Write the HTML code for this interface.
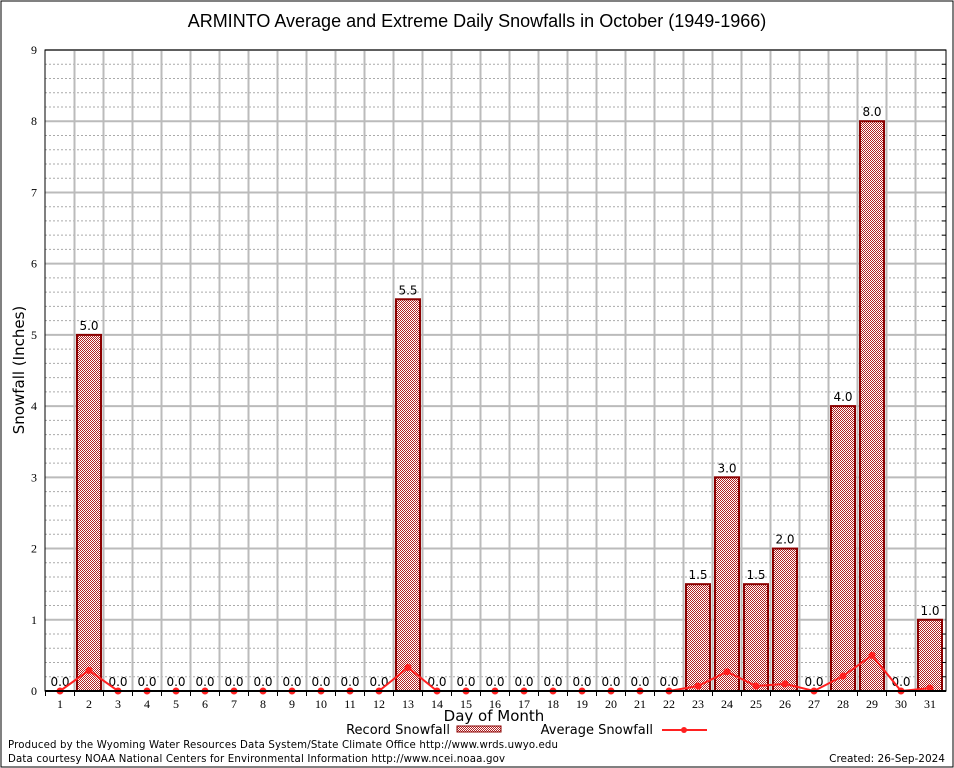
<!DOCTYPE html>
<html><head><meta charset="utf-8"><style>
body{margin:0;background:#fff;}
svg{display:block;font-family:"DejaVu Sans","Liberation Sans",sans-serif;}
</style></head><body>
<svg id="chart" width="954" height="768" viewBox="0 0 954 768">
<defs>
<pattern id="hatch" width="2" height="2" patternUnits="userSpaceOnUse">
<rect width="2" height="2" fill="#fff"/>
<rect width="1" height="1" fill="#b22222"/>
<rect x="1" y="1" width="1" height="1" fill="#b22222"/>
</pattern>
</defs>
<rect x="1" y="1" width="952" height="766" fill="#fff" stroke="#000" stroke-width="1"/>
<text x="477" y="27" font-size="18" text-anchor="middle" font-family="Liberation Sans, sans-serif">ARMINTO Average and Extreme Daily Snowfalls in October (1949-1966)</text>
<g id="grid"></g>
<g id="bars"></g>
<g id="avg"></g>
<g id="axes"></g>
<text x="24" y="370" font-size="15" text-anchor="middle" transform="rotate(-90 24 370)">Snowfall (Inches)</text>
<text x="494" y="721" font-size="15" text-anchor="middle">Day of Month</text>
<g>
<text x="450" y="734" font-size="13" text-anchor="end">Record Snowfall</text>
<rect x="457" y="726" width="44" height="6" fill="url(#hatch)" stroke="#8b0000" stroke-width="1"/>
<text x="653" y="734" font-size="13" text-anchor="end">Average Snowfall</text>
<line x1="662" y1="730" x2="707" y2="730" stroke="#ff2020" stroke-width="2"/>
<circle cx="684" cy="730" r="3" fill="#ff2020"/>
</g>
<text x="8" y="748" font-size="10.2" textLength="550">Produced by the Wyoming Water Resources Data System/State Climate Office http://www.wrds.uwyo.edu</text>
<text x="8" y="762" font-size="10.2" textLength="497">Data courtesy NOAA National Centers for Environmental Information http://www.ncei.noaa.gov</text>
<text x="945" y="762" font-size="10.5" text-anchor="end">Created: 26-Sep-2024</text>
</svg>
<script>
const days=[1,2,3,4,5,6,7,8,9,10,11,12,13,14,15,16,17,18,19,20,21,22,23,24,25,26,27,28,29,30,31];
const recordSnow=[0,5,0,0,0,0,0,0,0,0,0,0,5.5,0,0,0,0,0,0,0,0,0,1.5,3,1.5,2,0,4,8,0,1];
const avgSnow=[0,0.29,0,0,0,0,0,0,0,0,0,0,0.33,0,0,0,0,0,0,0,0,0,0.07,0.27,0.07,0.1,0,0.21,0.5,0,0.04];
const yTicks=[0,1,2,3,4,5,6,7,8,9];
const NS="http://www.w3.org/2000/svg";
const L=45,R=946,T=50,B=691,YMAX=9;
function xs(d){return 60+(d-1)*29;}
function ys(v){return B-(v/YMAX)*(B-T);}
function mk(tag,attrs,parent){const e=document.createElementNS(NS,tag);for(const k in attrs)e.setAttribute(k,attrs[k]);parent.appendChild(e);return e;}
const grid=document.getElementById('grid'),bars=document.getElementById('bars'),avg=document.getElementById('avg'),axes=document.getElementById('axes');
for(let v=0.2;v<YMAX;v+=0.2){if(Math.abs(v-Math.round(v))<0.01)continue;
 const l=mk('line',{x1:L,x2:R,y1:ys(v),y2:ys(v),stroke:'#aaa','stroke-width':1,'stroke-dasharray':'2,2'},grid);
 
 }
for(const v of yTicks){if(v===0)continue;
 const l=mk('line',{x1:L,x2:R,y1:ys(v),y2:ys(v),stroke:'#bbb','stroke-width':2},grid);
 
 }
for(let i=1;i<days.length;i++){const x=xs(days[i])-14.5;
 const l=mk('line',{x1:x,x2:x,y1:T,y2:B,stroke:'#bbb','stroke-width':2},grid);
 
 }
days.forEach((d,i)=>{const v=recordSnow[i];
 if(v>0){const r=mk('rect',{x:xs(d)-12,y:ys(v),width:24,height:B-ys(v),fill:'url(#hatch)',stroke:'#8b0000','stroke-width':2},bars);
  
  }
 const t=mk('text',{x:xs(d),y:ys(v)-5,'font-size':12,'text-anchor':'middle'},bars);t.textContent=v.toFixed(1);
 
 
});
const p=mk('polyline',{points:days.map((d,i)=>xs(d)+','+ys(avgSnow[i])).join(' '),fill:'none',stroke:'#ff2020','stroke-width':2},avg);


days.forEach((d,i)=>{const c=mk('circle',{cx:xs(d),cy:ys(avgSnow[i]),r:3.5,fill:'#ff2020'},avg);
 
 });
const fr=mk('rect',{x:L,y:T,width:R-L,height:B-T,fill:'none',stroke:'#000','stroke-width':1},axes);


const ax=mk('line',{x1:L,x2:R,y1:B,y2:B,stroke:'#000','stroke-width':2},axes);


for(const v of yTicks){const t=mk('text',{x:L-8,y:ys(v)+4,'font-size':12,'text-anchor':'end','font-family':'Liberation Serif, serif'},axes);t.textContent=v;
 
 
 for(let k=1;k<5&&v<YMAX;k++){const tl=mk('line',{x1:R-4,x2:R,y1:ys(v+k*0.2),y2:ys(v+k*0.2),stroke:'#000'},axes);
  
  }}
days.forEach(d=>{const t=mk('text',{x:xs(d),y:708,'font-size':12,'text-anchor':'middle','font-family':'Liberation Serif, serif'},axes);t.textContent=d;
 
 
 const tk=mk('line',{x1:xs(d)-14.5,x2:xs(d)-14.5,y1:B,y2:B+5,stroke:'#000'},axes);
 
 });
</script>
</body></html>
